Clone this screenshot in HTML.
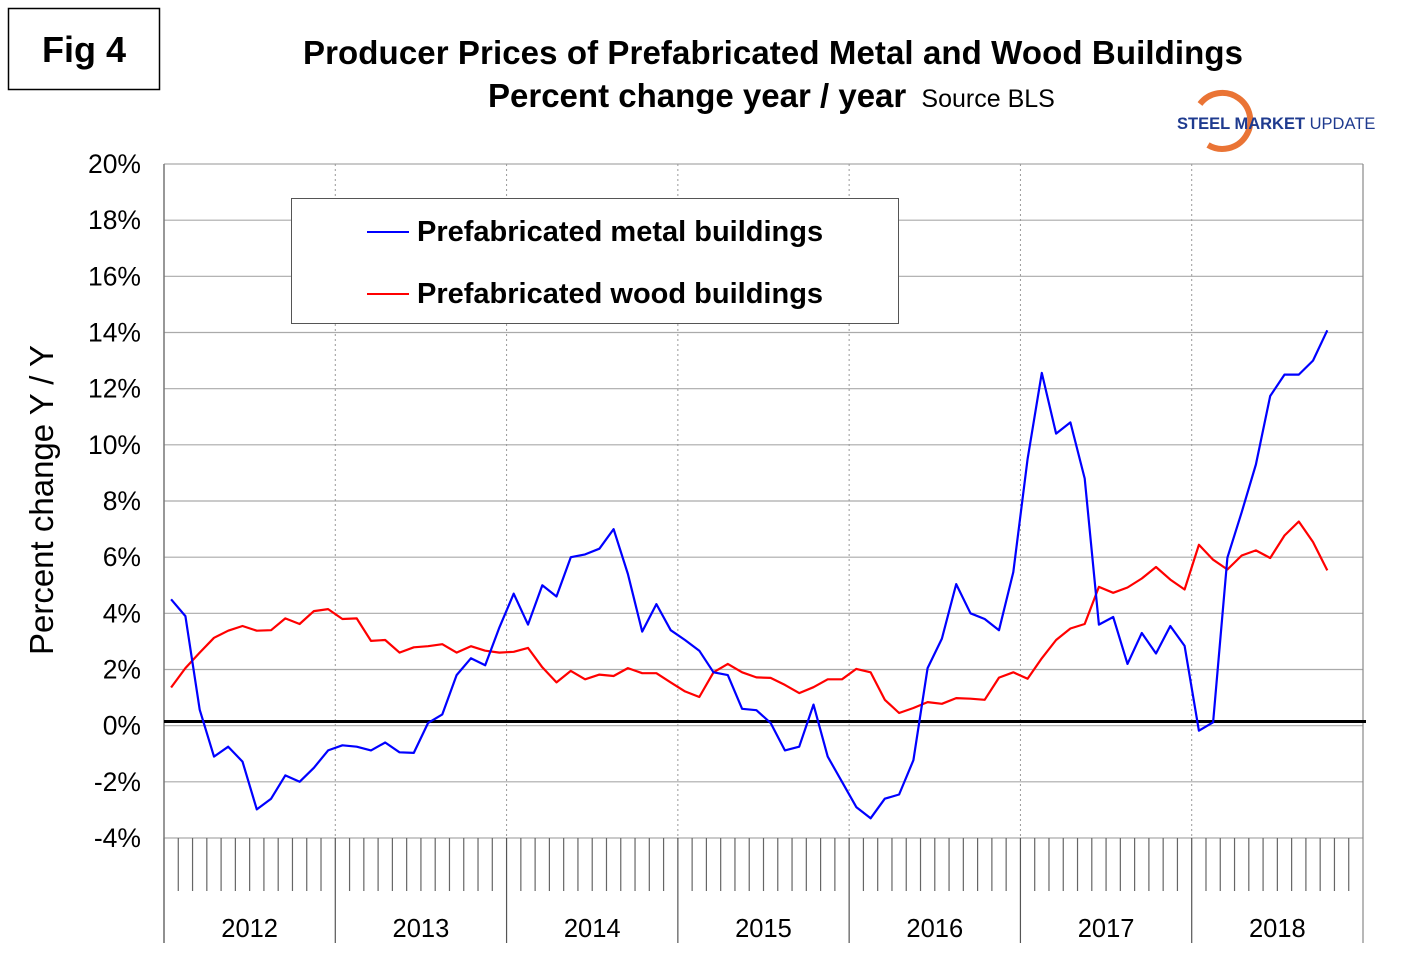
<!DOCTYPE html>
<html><head><meta charset="utf-8"><style>
body{margin:0;background:#fff;}
svg{display:block;font-family:"Liberation Sans",Arial,sans-serif;}
</style></head><body>
<svg id="chart" width="1420" height="973" viewBox="0 0 1420 973">
<rect x="0" y="0" width="1420" height="973" fill="#fff"/>
<g>
<rect x="8.5" y="8.5" width="151" height="81" fill="none" stroke="#000" stroke-width="1.5"/>
<text x="84" y="62" font-size="36" font-weight="bold" text-anchor="middle">Fig 4</text>
</g>
<text x="773" y="64" font-size="33" font-weight="bold" text-anchor="middle" textLength="940">Producer Prices of Prefabricated Metal and Wood Buildings</text>
<text x="488" y="107" font-size="33" font-weight="bold">Percent change year / year <tspan font-size="25" font-weight="normal" dx="6">Source BLS</tspan></text>
<g>
<path d="M1200,104 A28,28 0 1,1 1208,145" fill="none" stroke="#e8651f" stroke-width="6" opacity="0.9"/>
<text x="1177" y="129" font-size="16.5" font-weight="bold" fill="#1f3b8f">STEEL MARKET <tspan font-weight="normal">UPDATE</tspan></text>
</g>
<text transform="translate(53,500) rotate(-90)" font-size="33" text-anchor="middle">Percent change Y / Y</text>
<g id="grid"></g>
<g id="axes"></g>
<g id="series"></g>
<g>
<rect x="291.5" y="198.5" width="607" height="125" fill="#fff" stroke="#555" stroke-width="1"/>
<g>
<line x1="367" y1="232" x2="409" y2="232" stroke="#0000ff" stroke-width="2"/>
<text x="417" y="241" font-size="29" font-weight="bold">Prefabricated metal buildings</text>
</g>
<g>
<line x1="367" y1="294" x2="409" y2="294" stroke="#ff0000" stroke-width="2"/>
<text x="417" y="303" font-size="29" font-weight="bold">Prefabricated wood buildings</text>
</g>
</g>
</svg>
<script>
const years = ["2012","2013","2014","2015","2016","2017","2018"];
const yTicks = [20,18,16,14,12,10,8,6,4,2,0,-2,-4];
const metal = [4.5,3.9,0.57,-1.1,-0.75,-1.28,-2.98,-2.6,-1.77,-2.0,-1.5,-0.88,
 -0.7,-0.75,-0.88,-0.6,-0.95,-0.97,0.1,0.4,1.8,2.4,2.15,3.5,
 4.7,3.6,5.0,4.6,6.0,6.1,6.3,7.0,5.4,3.35,4.33,3.4,
 3.05,2.67,1.9,1.8,0.6,0.55,0.1,-0.88,-0.75,0.75,-1.1,-2.0,
 -2.9,-3.3,-2.6,-2.45,-1.23,2.05,3.1,5.04,4.0,3.8,3.4,5.47,
 9.5,12.56,10.4,10.8,8.8,3.6,3.87,2.2,3.3,2.57,3.55,2.84,
 -0.18,0.12,5.98,7.6,9.3,11.74,12.5,12.5,13.0,14.08];
const wood = [1.36,2.05,2.6,3.13,3.38,3.55,3.38,3.4,3.82,3.62,4.08,4.15,
 3.8,3.82,3.02,3.05,2.6,2.79,2.83,2.9,2.6,2.83,2.67,2.6,
 2.63,2.77,2.08,1.54,1.95,1.65,1.82,1.77,2.05,1.87,1.87,1.54,
 1.22,1.02,1.9,2.2,1.9,1.72,1.7,1.45,1.16,1.37,1.65,1.65,
 2.02,1.9,0.92,0.45,0.63,0.84,0.78,0.98,0.96,0.92,1.71,1.9,
 1.67,2.4,3.05,3.46,3.62,4.94,4.73,4.92,5.24,5.65,5.2,4.85,
 6.44,5.91,5.56,6.06,6.24,5.97,6.77,7.27,6.54,5.53];

const NS="http://www.w3.org/2000/svg";
const X0=164, X1=1363, YT=164, YB=838;
const monthW=(X1-X0)/(years.length*12);
function xPos(i){return X0+monthW*(i+0.5);}
function yPos(v){return YT+(20-v)*(YB-YT)/24;}
function mk(tag,attrs,parent){const e=document.createElementNS(NS,tag);for(const k in attrs)e.setAttribute(k,attrs[k]);parent.appendChild(e);return e;}
const grid=document.getElementById('grid'), axes=document.getElementById('axes'), series=document.getElementById('series');

yTicks.forEach(v=>{
  const y=yPos(v);
  const l=mk('line',{x1:X0,x2:X1,y1:y,y2:y,stroke:'#aaa','stroke-width':1.2},grid);
  
  
  const t=mk('text',{x:141,y:y+9,'font-size':26.5,'text-anchor':'end'},axes);
  t.textContent=v+'%';
  
  
});
years.forEach((yr,k)=>{
  const xb=X0+k*12*monthW;
  if(k>0){
    const d=mk('line',{x1:xb,x2:xb,y1:YT,y2:YB,stroke:'#999','stroke-width':1,'stroke-dasharray':'2,3'},grid);
    
    
  }
  const b=mk('line',{x1:xb,x2:xb,y1:YB,y2:943,stroke:'#555','stroke-width':1.2},axes);
  
  
  for(let m=1;m<12;m++){
    const xm=xb+m*monthW;
    const tk=mk('line',{x1:xm,x2:xm,y1:YB,y2:891,stroke:'#666','stroke-width':1.2},axes);
    
    
  }
  const t=mk('text',{x:xb+6*monthW,y:937,'font-size':25.5,'text-anchor':'middle'},axes);
  t.textContent=yr;
  
  
});
const last=mk('line',{x1:X1,x2:X1,y1:YT,y2:943,stroke:'#888','stroke-width':1.2},axes);


const ya=mk('line',{x1:X0,x2:X0,y1:YT,y2:943,stroke:'#777','stroke-width':1.5},axes);


const z=mk('line',{x1:X0,x2:1366,y1:yPos(0.15),y2:yPos(0.15),stroke:'#000','stroke-width':3},axes);



function drawLine(arr,color,name){
  const pts=arr.map((v,i)=>xPos(i).toFixed(1)+','+yPos(v).toFixed(1)).join(' ');
  const p=mk('polyline',{points:pts,fill:'none',stroke:color,'stroke-width':2.2,'stroke-linejoin':'round'},series);
  
  
}
drawLine(wood,'#ff0000','wood-buildings-line');
drawLine(metal,'#0000ff','metal-buildings-line');
</script>
</body></html>
